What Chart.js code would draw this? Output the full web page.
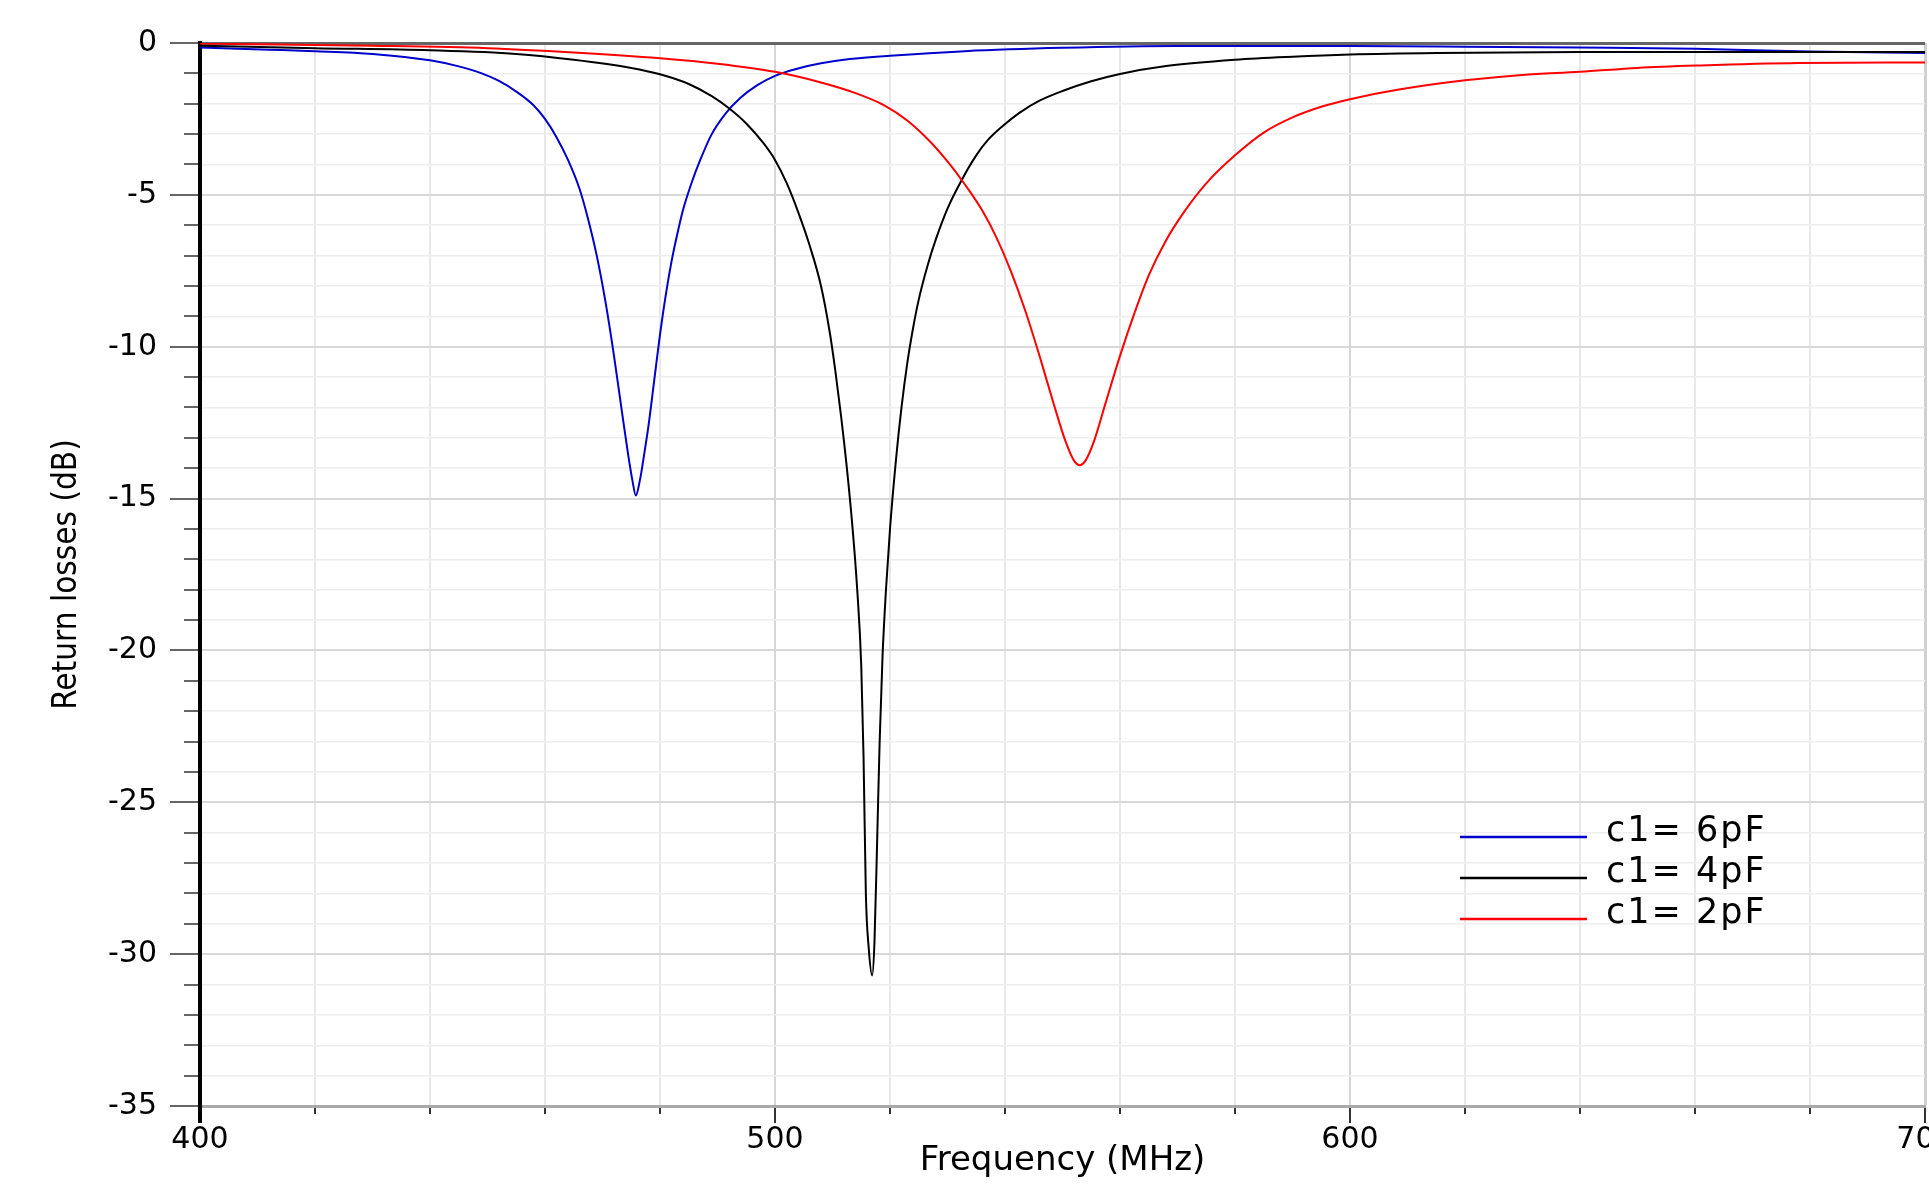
<!DOCTYPE html>
<html><head><meta charset="utf-8">
<script src="https://cdn.jsdelivr.net/npm/chart.js@4.4.1/dist/chart.umd.min.js"></script>
<style>html,body{margin:0;padding:0;background:#fff;overflow:hidden}canvas{display:block}</style>
</head><body>
<canvas id="c" width="1929" height="1185"></canvas>
<script>
// ---- data ----
const seriesLabels = ['c1= 6pF', 'c1= 4pF', 'c1= 2pF'];
const seriesColors = ['#0000cc', '#000000', '#ff0000'];

const freq6pF = [400,412,420,430,440,445,449,452,455,458,460,462,464,466,467.5,469,470.5,472,473.5,474.5,475.2,475.8,476.5,477.2,478,479,480,481,482,483,484,485.5,487,489,491.5,494,497,500,504,508,513,520,533,550,570,600,620,640,660,680,700];
const rl6pF = [-0.15,-0.22,-0.27,-0.36,-0.57,-0.77,-1.0,-1.25,-1.6,-2.05,-2.5,-3.1,-3.85,-4.8,-5.8,-7.0,-8.5,-10.3,-12.3,-13.6,-14.4,-14.9,-14.4,-13.6,-12.6,-11.1,-9.6,-8.3,-7.2,-6.3,-5.5,-4.6,-3.85,-3.0,-2.3,-1.8,-1.38,-1.08,-0.84,-0.67,-0.53,-0.42,-0.27,-0.16,-0.1,-0.1,-0.12,-0.15,-0.19,-0.28,-0.33];

const freq4pF = [400,420,440,455,465,475,480,485,489,492,495,498,500,502,504,506,508,509.5,510.5,511.5,512.5,513.5,514.3,515,515.4,515.8,516.3,516.9,517.3,517.8,518.2,518.7,519.3,520,521,522,523,524,525,526.5,528,530,532.5,535,537,539.5,542.5,546,550,555,560,568,580,590,600,615,640,700];
const rl4pF = [-0.09,-0.17,-0.24,-0.36,-0.55,-0.82,-1.03,-1.35,-1.75,-2.15,-2.65,-3.3,-3.85,-4.6,-5.55,-6.65,-8.0,-9.5,-10.8,-12.3,-14.0,-16.0,-18.0,-20.5,-23.5,-28.0,-29.8,-30.7,-29.6,-26.0,-23.0,-20.2,-18.0,-16.0,-13.8,-12.0,-10.55,-9.4,-8.45,-7.35,-6.45,-5.45,-4.5,-3.7,-3.2,-2.75,-2.3,-1.9,-1.58,-1.26,-1.02,-0.76,-0.55,-0.45,-0.38,-0.33,-0.3,-0.3];

const freq2pF = [400,430,450,465,480,490,500,508,514,519,523,527,530,533,536,538.5,541,543.5,546,548.5,550.5,552,553,554,555.5,557.5,560,562.5,565,568,571,575,580,585,590,595,600,608,620,630,640,650,661,678,700];
const rl2pF = [-0.02,-0.09,-0.17,-0.31,-0.5,-0.68,-0.95,-1.3,-1.65,-2.05,-2.55,-3.25,-3.9,-4.65,-5.5,-6.4,-7.5,-8.8,-10.3,-11.9,-13.1,-13.75,-13.9,-13.75,-13.1,-11.85,-10.3,-8.9,-7.65,-6.5,-5.6,-4.62,-3.7,-2.95,-2.45,-2.1,-1.85,-1.55,-1.23,-1.05,-0.95,-0.82,-0.74,-0.66,-0.64];

const xTickLabels = [400, 500, 600, 700];
const yTickLabels = [0, -5, -10, -15, -20, -25, -30, -35];
const xTitle = 'Frequency (MHz)';
const yTitle = 'Return losses (dB)';

// ---- chart ----
const pts = (xs, ys) => xs.map((x, i) => ({x: x, y: ys[i]}));
const seriesFreq = [freq6pF, freq4pF, freq2pF];
const seriesVals = [rl6pF, rl4pF, rl2pF];

const axisDecor = {
  id: 'axisDecor',
  afterDraw(chart) {
    const {ctx, chartArea: a, scales: {x, y}} = chart;
    ctx.save();
    y.ticks.forEach(t => {
      const py = Math.round(y.getPixelForValue(t.value));
      const major = yTickLabels.includes(t.value);
      ctx.strokeStyle = '#666';
      ctx.lineWidth = 2;
      ctx.beginPath();
      ctx.moveTo(a.left - (major ? 30 : 16), py);
      ctx.lineTo(a.left - 2, py);
      ctx.stroke();
    });
    x.ticks.forEach(t => {
      const px = Math.round(x.getPixelForValue(t.value));
      const major = xTickLabels.includes(t.value);
      if (t.value === x.min) {
        ctx.strokeStyle = '#000'; ctx.lineWidth = 4;
        ctx.beginPath(); ctx.moveTo(px, a.bottom); ctx.lineTo(px, a.bottom + 17); ctx.stroke();
      } else {
        ctx.strokeStyle = '#333'; ctx.lineWidth = 2;
        ctx.beginPath(); ctx.moveTo(px, a.bottom + 2); ctx.lineTo(px, a.bottom + (major ? 17 : 8)); ctx.stroke();
      }
    });
    // legend
    ctx.font = '35px "DejaVu Sans"';
    ctx.textBaseline = 'alphabetic';
    ctx.textAlign = 'left';
    try { ctx.letterSpacing = '2px'; } catch (e) {}
    chart.data.datasets.forEach((ds, i) => {
      const ly = 837 + i * 41;
      ctx.strokeStyle = ds.borderColor;
      ctx.lineWidth = 2.5;
      ctx.beginPath(); ctx.moveTo(1460, ly); ctx.lineTo(1587, ly); ctx.stroke();
      ctx.fillStyle = '#000';
      ctx.fillText(ds.label, 1606, ly + 4);
    });
    ctx.restore();
  }
};

new Chart(document.getElementById('c'), {
  type: 'line',
  data: {
    datasets: seriesLabels.map((lab, i) => ({
      label: lab,
      data: pts(seriesFreq[i], seriesVals[i]),
      borderColor: seriesColors[i],
      backgroundColor: seriesColors[i],
      borderWidth: 2,
      pointRadius: 0,
      cubicInterpolationMode: 'monotone',
      fill: false,
      order: 2 - i
    }))
  },
  options: {
    responsive: false,
    animation: false,
    layout: { padding: { top: 43, right: 4, left: 0, bottom: 0 }, autoPadding: false },
    plugins: { legend: { display: false }, tooltip: { enabled: false } },
    scales: {
      x: {
        type: 'linear', min: 400, max: 700,
        afterFit: s => { s.height = 79; s.paddingLeft = 0; s.paddingRight = 0; },
        ticks: {
          stepSize: 20, autoSkip: false, maxRotation: 0, padding: 16,
          color: '#000', font: { family: 'DejaVu Sans', size: 30 },
          callback: v => xTickLabels.includes(v) ? String(v) : ''
        },
        grid: {
          drawTicks: false,
          color: c => c.tick.value === 700 ? '#d0d0d0' : (c.tick.value % 100 === 0 ? '#d6d6d6' : '#e8e8e8'),
          lineWidth: c => c.tick.value === 700 ? 3 : 2
        },
        border: { display: true, color: '#aaaaaa', width: 3 },
        title: { display: true, text: xTitle, color: '#000', font: { family: 'DejaVu Sans', size: 34 }, padding: { top: 0, bottom: 3 } }
      },
      y: {
        type: 'linear', min: -35, max: 0,
        afterFit: s => { s.width = 200; s.paddingTop = 0; s.paddingBottom = 0; },
        ticks: {
          stepSize: 1, autoSkip: false, padding: 43,
          color: '#000', font: { family: 'DejaVu Sans', size: 30 },
          callback: v => yTickLabels.includes(v) ? String(v) : ''
        },
        grid: {
          drawTicks: false,
          color: c => c.tick.value === 0 ? '#666666' : (c.tick.value % 5 === 0 ? '#d8d8d8' : '#eeeeee'),
          lineWidth: c => c.tick.value === 0 ? 3 : (c.tick.value % 5 === 0 ? 2 : 1.5)
        },
        border: { display: true, color: '#000', width: 4 },
        title: { display: true, text: yTitle, color: '#000', font: { family: '"Liberation Sans Narrow", "DejaVu Sans Condensed", sans-serif', size: 33 }, padding: { top: 48, bottom: 0 } }
      }
    }
  },
  plugins: [axisDecor]
});
</script>
</body></html>
